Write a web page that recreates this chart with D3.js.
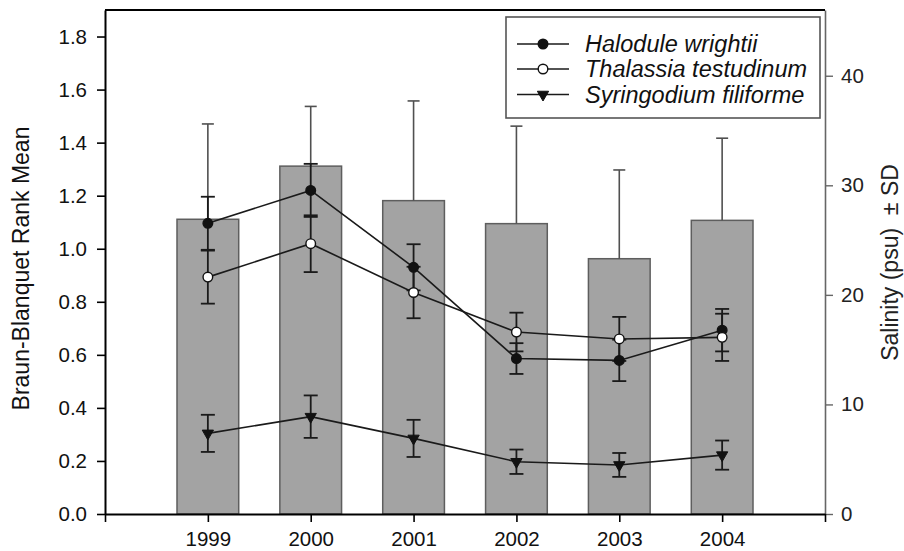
<!DOCTYPE html>
<html>
<head>
<meta charset="utf-8">
<script src="https://cdn.jsdelivr.net/npm/d3@7"></script>
<style>
  html, body { margin: 0; padding: 0; background: #fff; }
  svg { display: block; font-family: Arial, "Liberation Sans", Helvetica, sans-serif; }
</style>
</head>
<body>
<svg id="chart" width="904" height="551"></svg>
<script>
// ---- data ----
const years = [1999, 2000, 2001, 2002, 2003, 2004];
const salinity = [26.9, 31.75, 28.6, 26.5, 23.3, 26.8];
const salinitySD = [8.7, 5.45, 9.1, 8.9, 8.1, 7.5];
const halodule = [1.096, 1.220, 0.930, 0.586, 0.579, 0.693];
const haloduleSE = [0.100, 0.100, 0.087, 0.058, 0.078, 0.080];
const thalassia = [0.893, 1.019, 0.835, 0.686, 0.660, 0.666];
const thalassiaSE = [0.100, 0.107, 0.097, 0.073, 0.083, 0.089];
const syringodium = [0.304, 0.367, 0.285, 0.197, 0.185, 0.222];
const syringodiumSE = [0.070, 0.080, 0.070, 0.046, 0.045, 0.055];
const leftTicks = [0, 0.2, 0.4, 0.6, 0.8, 1.0, 1.2, 1.4, 1.6, 1.8];
const rightTicks = [0, 10, 20, 30, 40];
const xTicks = [1998, 1999, 2000, 2001, 2002, 2003, 2004, 2005];
const seriesNames = ["Halodule wrightii", "Thalassia testudinum", "Syringodium filiforme"];

// ---- layout ----
const L = 105, R = 825, T = 10, B = 514;
const svg = d3.select("#chart");
const x = d3.scaleLinear().domain([1998, 2005]).range([L, R]);
const yL = d3.scaleLinear().domain([0, 1.9]).range([B, T]);
const yR = d3.scaleLinear().domain([0, 46]).range([B, T]);
const barW = x(1998.6) - x(1998);

// bars (salinity, right axis)
svg.append("g").selectAll("rect").data(years).join("rect")
  .attr("x", (d) => x(d) - barW / 2)
  .attr("y", (d, i) => yR(salinity[i]))
  .attr("width", barW)
  .attr("height", (d, i) => yR(0) - yR(salinity[i]))
  .attr("fill", "#a3a3a3")
  .attr("stroke", "#5e5e5e")
  .attr("stroke-width", 1.5);

// salinity SD (upper only)
const sd = svg.append("g").attr("stroke", "#505050").attr("stroke-width", 1.6);
years.forEach((yr, i) => {
  const cx = x(yr), y0 = yR(salinity[i]), y1 = yR(salinity[i] + salinitySD[i]);
  sd.append("line").attr("x1", cx).attr("x2", cx).attr("y1", y0).attr("y2", y1);
  sd.append("line").attr("x1", cx - 6).attr("x2", cx + 6).attr("y1", y1).attr("y2", y1);
});

// series
const series = [
  { name: seriesNames[0], v: halodule, e: haloduleSE, type: "filled" },
  { name: seriesNames[1], v: thalassia, e: thalassiaSE, type: "open" },
  { name: seriesNames[2], v: syringodium, e: syringodiumSE, type: "tri" }
];
const line = d3.line().x((d) => x(d[0])).y((d) => yL(d[1]));
const triPath = d3.symbol().type(d3.symbolTriangle).size(55);

series.forEach((s) => {
  const pts = years.map((yr, i) => [yr, s.v[i]]);
  svg.append("path").attr("d", line(pts)).attr("fill", "none")
    .attr("stroke", "#1a1a1a").attr("stroke-width", 1.6);
});
series.forEach((s) => {
  const g = svg.append("g").attr("stroke", "#1a1a1a").attr("stroke-width", 1.8);
  years.forEach((yr, i) => {
    const cx = x(yr), a = yL(s.v[i] + s.e[i]), b = yL(s.v[i] - s.e[i]);
    g.append("line").attr("x1", cx).attr("x2", cx).attr("y1", a).attr("y2", b);
    g.append("line").attr("x1", cx - 7).attr("x2", cx + 7).attr("y1", a).attr("y2", a);
    g.append("line").attr("x1", cx - 7).attr("x2", cx + 7).attr("y1", b).attr("y2", b);
  });
});
function drawMarker(g, type, cx, cy) {
  if (type === "tri") {
    g.append("path").attr("d", triPath()).attr("transform", `translate(${cx},${cy}) rotate(180)`)
      .attr("fill", "#111").attr("stroke", "#111").attr("stroke-width", 1);
  } else {
    g.append("circle").attr("cx", cx).attr("cy", cy).attr("r", 4.8)
      .attr("fill", type === "filled" ? "#111" : "#fff")
      .attr("stroke", "#111").attr("stroke-width", 1.4);
  }
}
series.forEach((s) => {
  const g = svg.append("g");
  years.forEach((yr, i) => drawMarker(g, s.type, x(yr), yL(s.v[i])));
});

// axes
const fontTick = "20.5px";
const gl = svg.append("g").attr("transform", `translate(${L},0)`)
  .call(d3.axisLeft(yL).tickValues(leftTicks).tickFormat(d3.format(".1f")).tickSize(8).tickSizeOuter(0).tickPadding(10));
gl.select(".domain").attr("stroke", "#000").attr("stroke-width", 2);
gl.selectAll(".tick line").attr("stroke", "#000").attr("stroke-width", 1.6);
gl.selectAll("text").attr("font-size", fontTick).attr("fill", "#111").attr("font-family", null);

const gr = svg.append("g").attr("transform", `translate(${R},0)`)
  .call(d3.axisRight(yR).tickValues(rightTicks).tickSize(8).tickSizeOuter(0).tickPadding(8));
gr.select(".domain").attr("stroke", "#666").attr("stroke-width", 1.6);
gr.selectAll(".tick line").attr("stroke", "#666").attr("stroke-width", 1.4);
gr.selectAll("text").attr("font-size", fontTick).attr("fill", "#222").attr("font-family", null);

const gb = svg.append("g").attr("transform", `translate(0,${B})`)
  .call(d3.axisBottom(x).tickValues(xTicks).tickFormat((d) => (years.includes(d) ? String(d) : ""))
    .tickSize(8).tickSizeOuter(0).tickPadding(9));
gb.select(".domain").attr("stroke", "#000").attr("stroke-width", 2);
gb.selectAll(".tick line").attr("stroke", "#000").attr("stroke-width", 1.6);
gb.selectAll("text").attr("font-size", fontTick).attr("fill", "#111").attr("font-family", null);

// top frame
svg.append("line").attr("x1", L).attr("x2", R).attr("y1", T).attr("y2", T)
  .attr("stroke", "#000").attr("stroke-width", 2);

// axis titles
svg.append("text").attr("transform", `translate(29,268.5) rotate(-90)`)
  .attr("text-anchor", "middle").attr("font-size", "23px").attr("fill", "#111")
  .text("Braun-Blanquet Rank Mean");
svg.append("text").attr("transform", `translate(898,262.5) rotate(-90)`)
  .attr("text-anchor", "middle").attr("font-size", "23px").attr("fill", "#222")
  .text("Salinity (psu)\u00A0\u00A0\u00B1 SD");

// legend
const lg = svg.append("g");
lg.append("rect").attr("x", 506).attr("y", 17).attr("width", 314).attr("height", 101)
  .attr("fill", "#fff").attr("stroke", "#555").attr("stroke-width", 1.6);
const rowY = [44, 69, 94.5];
series.forEach((s, i) => {
  lg.append("line").attr("x1", 517).attr("x2", 569).attr("y1", rowY[i]).attr("y2", rowY[i])
    .attr("stroke", "#1a1a1a").attr("stroke-width", 1.6);
  drawMarker(lg, s.type, 543, rowY[i]);
  lg.append("text").attr("x", 585).attr("y", rowY[i]).attr("dy", "0.36em")
    .attr("font-size", "23.5px").attr("font-style", "italic").attr("fill", "#111")
    .text(s.name);
});
</script>
</body>
</html>
